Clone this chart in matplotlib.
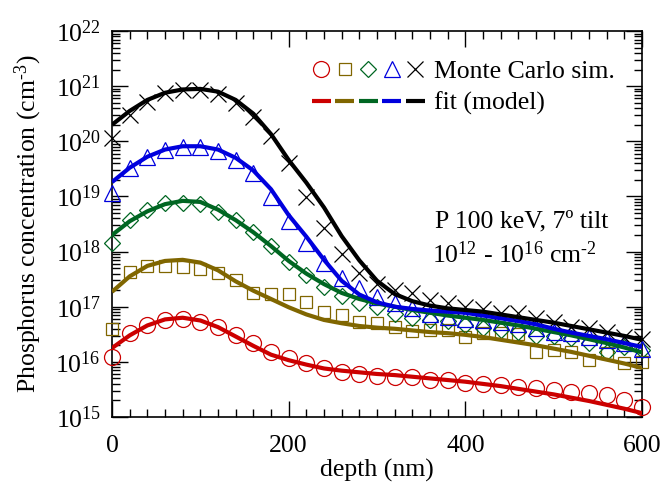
import numpy as np
import matplotlib
matplotlib.use('Agg')
import matplotlib.pyplot as plt
from matplotlib.ticker import FixedLocator, MultipleLocator, NullFormatter
from matplotlib.legend_handler import HandlerTuple

plt.rcParams['font.family'] = ['Liberation Serif', 'DejaVu Serif']
plt.rcParams['mathtext.fontset'] = 'custom'
plt.rcParams['mathtext.rm'] = 'Liberation Serif'
plt.rcParams['mathtext.it'] = 'Liberation Serif:italic'

# depth in nm, simulation points and fit sampled every 20 nm
depth = np.arange(0, 601, 20)

# log10 of concentration (cm^-3)
red_mc = [16.09, 16.52, 16.67, 16.76, 16.78, 16.72, 16.63, 16.49, 16.34, 16.18,
          16.07, 15.98, 15.89, 15.82, 15.78, 15.74, 15.72, 15.72, 15.67, 15.67,
          15.62, 15.60, 15.58, 15.54, 15.52, 15.49, 15.45, 15.43, 15.40, 15.31, 15.18]
olive_mc = [16.60, 17.63, 17.74, 17.74, 17.72, 17.68, 17.61, 17.48, 17.25, 17.23,
            17.23, 17.08, 16.90, 16.85, 16.72, 16.70, 16.63, 16.56, 16.58, 16.58,
            16.45, 16.52, 16.52, 16.50, 16.18, 16.21, 16.18, 16.03, 16.16, 15.98, 16.00]
green_mc = [18.16, 18.57, 18.75, 18.88, 18.88, 18.86, 18.72, 18.57, 18.35, 18.10,
            17.81, 17.57, 17.36, 17.19, 17.07, 16.99, 16.87, 16.80, 16.76, 16.74,
            16.67, 16.62, 16.58, 16.54, 16.46, 16.46, 16.43, 16.34, 16.17, 16.27, 16.21]
blue_mc = [19.06, 19.52, 19.71, 19.84, 19.90, 19.90, 19.82, 19.66, 19.42, 18.99,
           18.56, 18.15, 17.79, 17.52, 17.34, 17.18, 17.06, 16.97, 16.87, 16.81,
           16.78, 16.76, 16.72, 16.69, 16.62, 16.55, 16.52, 16.45, 16.40, 16.34, 16.23]
black_mc = [20.06, 20.48, 20.71, 20.87, 20.93, 20.93, 20.86, 20.69, 20.44, 20.10,
            19.61, 18.99, 18.42, 17.95, 17.62, 17.41, 17.30, 17.25, 17.12, 17.07,
            17.00, 16.96, 16.89, 16.89, 16.80, 16.72, 16.63, 16.61, 16.54, 16.45, 16.42]

red_fit = [16.25, 16.48, 16.66, 16.77, 16.80, 16.75, 16.63, 16.46, 16.29, 16.13,
           16.03, 15.95, 15.88, 15.84, 15.81, 15.78, 15.76, 15.73, 15.70, 15.67,
           15.64, 15.60, 15.56, 15.51, 15.46, 15.41, 15.35, 15.29, 15.22, 15.15, 15.07]
olive_fit = [17.27, 17.55, 17.74, 17.83, 17.85, 17.80, 17.66, 17.46, 17.29, 17.14,
             16.99, 16.86, 16.76, 16.70, 16.65, 16.62, 16.60, 16.57, 16.54, 16.52,
             16.49, 16.45, 16.40, 16.35, 16.30, 16.24, 16.18, 16.11, 16.04, 15.97, 15.89]
green_fit = [18.30, 18.55, 18.73, 18.86, 18.92, 18.90, 18.76, 18.57, 18.35, 18.10,
             17.83, 17.60, 17.41, 17.25, 17.14, 17.06, 17.00, 16.94, 16.89, 16.84,
             16.80, 16.76, 16.71, 16.66, 16.60, 16.54, 16.48, 16.41, 16.34, 16.26, 16.17]
blue_fit = [19.26, 19.52, 19.72, 19.85, 19.91, 19.91, 19.85, 19.70, 19.47, 19.13,
            18.66, 18.27, 17.85, 17.47, 17.22, 17.08, 17.00, 16.96, 16.93, 16.91,
            16.89, 16.84, 16.79, 16.74, 16.68, 16.60, 16.53, 16.47, 16.41, 16.34, 16.27]
black_fit = [20.30, 20.55, 20.75, 20.88, 20.94, 20.95, 20.90, 20.75, 20.50, 20.13,
             19.66, 19.25, 18.80, 18.28, 17.84, 17.47, 17.23, 17.10, 17.02, 16.97,
             16.94, 16.91, 16.86, 16.81, 16.76, 16.71, 16.65, 16.59, 16.53, 16.47, 16.40]

colors = ['#cc0000', '#806600', '#006622', '#0000dd', '#000000']
markers = ['o', 's', 'D', '^', 'x']
msizes = [11.5, 8.8, 8.6, 12, 12]
mc_sets = [red_mc, olive_mc, green_mc, blue_mc, black_mc]
fit_sets = [red_fit, olive_fit, green_fit, blue_fit, black_fit]

fig = plt.figure(figsize=(6.62, 4.86), dpi=100)
ax = fig.add_axes([0.1692, 0.142, 0.8006, 0.7942])

mc_handles = []
for vals, c, m, ms in zip(mc_sets, colors, markers, msizes):
    h, = ax.plot(depth, 10 ** np.array(vals), ls='none', marker=m, ms=ms,
                 mfc='none', mec=c, mew=0.9, clip_on=False, zorder=3)
    mc_handles.append(h)

fit_handles = []
for vals, c in zip(fit_sets, colors):
    h, = ax.plot(depth, 10 ** np.array(vals), color=c, lw=3,
                 solid_capstyle='butt', zorder=4)
    fit_handles.append(h)

ax.set_yscale('log')
ax.set_xlim(0, 600)
ax.set_ylim(1e15, 1e22)
decades = np.arange(15, 23)
ax.yaxis.set_major_locator(FixedLocator(10.0 ** decades))
ax.yaxis.set_minor_locator(FixedLocator([k * 10.0 ** d for d in decades[:-1] for k in range(2, 10)]))
ax.yaxis.set_minor_formatter(NullFormatter())
ax.xaxis.set_major_locator(MultipleLocator(200))
ax.xaxis.set_minor_locator(MultipleLocator(20))

ax.tick_params(which='both', direction='in', top=True, right=True, labelsize=18.5, width=1)
ax.tick_params(which='major', length=11.5)
ax.tick_params(which='minor', length=6)
ax.tick_params(axis='y', which='major', pad=8)
ax.tick_params(axis='x', which='major', pad=13)
for s in ax.spines.values():
    s.set_linewidth(1.2)

ax.set_xlabel('depth (nm)', fontsize=18.5, labelpad=1)
ax.set_ylabel(r'Phosphorus concentration (cm$^{\text{-}3}$)', fontsize=18.5, labelpad=8)

ax.legend([tuple(mc_handles), tuple(fit_handles)], ['Monte Carlo sim.', 'fit (model)'],
          handler_map={tuple: HandlerTuple(ndivide=None, pad=0.18)},
          loc='upper left', bbox_to_anchor=(0.377, 0.925), frameon=False,
          fontsize=18.5, handlelength=4.4, handletextpad=0.35, labelspacing=0.35,
          borderpad=0, borderaxespad=0)

ax.text(0.609, 0.49, 'P 100 keV, 7º tilt', transform=ax.transAxes,
        fontsize=18.5, va='baseline', ha='left')
ax.text(0.604, 0.399, r'$10^{12}$ - $10^{16}$ cm$^{\text{-}2}$', transform=ax.transAxes,
        fontsize=18.5, va='baseline', ha='left')

fig.savefig('out.png', dpi=100)
